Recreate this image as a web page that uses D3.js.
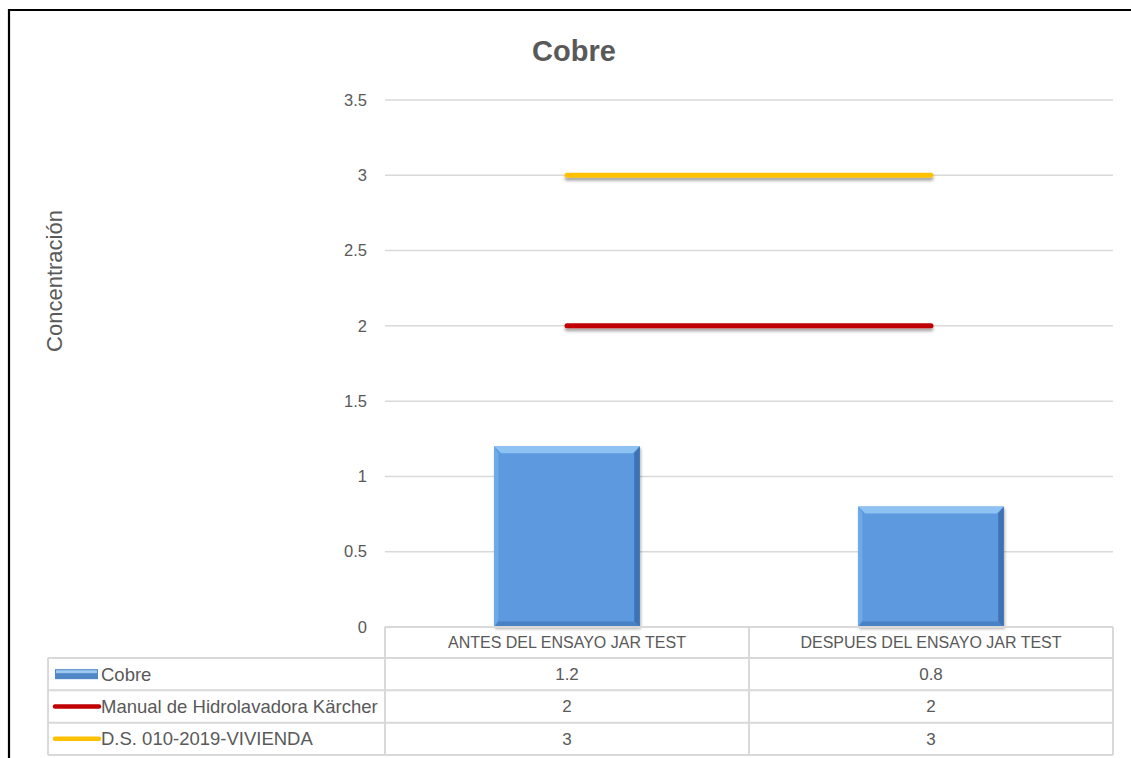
<!DOCTYPE html>
<html>
<head>
<meta charset="utf-8">
<script src="https://cdn.jsdelivr.net/npm/d3@7"></script>
<style>
  html, body { margin: 0; padding: 0; background: #fff; }
  svg { display: block; }
</style>
</head>
<body>
<svg id="chart" width="1131" height="758"></svg>
<script>
// Chart data
const categories = ["ANTES DEL ENSAYO JAR TEST", "DESPUES DEL ENSAYO JAR TEST"];
const cobreValues = [1.2, 0.8];
const manualValues = [2, 2];
const dsValues = [3, 3];
const yTicks = [0, 0.5, 1, 1.5, 2, 2.5, 3, 3.5];
const seriesNames = ["Cobre", "Manual de Hidrolavadora Kärcher", "D.S. 010-2019-VIVIENDA"];
const seriesValues = [cobreValues, manualValues, dsValues];

const svg = d3.select("#chart");
const W = 1131, H = 758;
const plot = { left: 385, right: 1113, top: 100, bottom: 627 };
const tableLeft = 48, tableBottom = 755;
const gridColor = "#d9d9d9";
const textColor = "#595959";
const baseFont = "Liberation Sans, Arial, sans-serif";

const x = d3.scaleBand().domain(categories).range([plot.left, plot.right]).padding(0);
const y = d3.scaleLinear().domain([0, 3.5]).range([plot.bottom, plot.top]);
const rowScale = d3.scaleBand().domain(seriesNames).range([658, tableBottom]);

const defs = svg.append("defs");
const shadow = defs.append("filter").attr("id", "lineShadow")
  .attr("filterUnits", "userSpaceOnUse")
  .attr("x", 0).attr("y", 0).attr("width", W).attr("height", H);
shadow.append("feDropShadow").attr("dx", 0).attr("dy", 3).attr("stdDeviation", 1.8)
  .attr("flood-color", "#000").attr("flood-opacity", 0.35);
const barShadow = defs.append("filter").attr("id", "barShadow")
  .attr("filterUnits", "userSpaceOnUse")
  .attr("x", 0).attr("y", 0).attr("width", W).attr("height", H);
barShadow.append("feDropShadow").attr("dx", 1).attr("dy", 2).attr("stdDeviation", 1.5)
  .attr("flood-color", "#000").attr("flood-opacity", 0.3);

// Outer frame (left and top edges)
svg.append("path")
  .attr("d", `M9,${H} L9,10 L${W},10`)
  .attr("fill", "none").attr("stroke", "#000").attr("stroke-width", 2.2);

// Title
svg.append("text")
  .attr("x", 574).attr("y", 61)
  .attr("text-anchor", "middle")
  .attr("font-family", baseFont)
  .attr("font-weight", "bold").attr("font-size", 29)
  .attr("fill", textColor)
  .text("Cobre");

// Horizontal gridlines
svg.append("g").selectAll("line").data(yTicks.filter(t => t > 0)).join("line")
  .attr("x1", plot.left).attr("x2", plot.right)
  .attr("y1", d => y(d)).attr("y2", d => y(d))
  .attr("stroke", gridColor).attr("stroke-width", 1.5);

// Y axis tick labels
const yAxis = d3.axisLeft(y).tickValues(yTicks).tickSize(0).tickPadding(0)
  .tickFormat(d => d3.format("")(d));
const yg = svg.append("g").attr("transform", `translate(367,0)`).call(yAxis);
yg.select(".domain").remove();
yg.selectAll("text")
  .attr("font-family", baseFont)
  .attr("font-size", 16.5).attr("fill", textColor);

// Y axis title
svg.append("text")
  .attr("transform", "translate(62,281) rotate(-90)")
  .attr("text-anchor", "middle")
  .attr("font-family", baseFont)
  .attr("font-size", 22).attr("fill", textColor)
  .text("Concentración");

// Bars with a bevelled edge
const barW = x.bandwidth() * 0.4;
const bev = 7;
const bars = svg.append("g").selectAll("g").data(categories.map((c, i) => ({ c, v: cobreValues[i] }))).join("g")
  .attr("filter", "url(#barShadow)");
bars.each(function(d) {
  const g = d3.select(this);
  const x0 = x(d.c) + (x.bandwidth() - barW) / 2, x1 = x0 + barW;
  const y0 = y(d.v), y1 = y(0);
  g.append("rect").attr("x", x0).attr("y", y0).attr("width", barW).attr("height", y1 - y0).attr("fill", "#5b99de");
  const poly = (pts, fill) => g.append("polygon").attr("points", pts.map(p => p.join(",")).join(" ")).attr("fill", fill);
  poly([[x0, y0], [x1, y0], [x1 - bev, y0 + bev], [x0 + bev, y0 + bev]], "#8ec2f3");
  poly([[x0, y0], [x0 + bev * 0.6, y0 + bev], [x0 + bev * 0.6, y1 - bev], [x0, y1]], "#6eaae8");
  poly([[x1, y0], [x1, y1], [x1 - bev * 0.8, y1 - bev * 0.8], [x1 - bev * 0.8, y0 + bev]], "#3e73b3");
  poly([[x0, y1], [x1, y1], [x1 - bev * 0.8, y1 - bev * 0.8], [x0 + bev * 0.6, y1 - bev * 0.8]], "#4a82c4");
});

// Reference lines between category centres
const lineGen = d3.line().x(d => d[0]).y(d => d[1]);
[[manualValues, "#c00000"], [dsValues, "#ffc000"]].forEach(([vals, color]) => {
  svg.append("path")
    .attr("d", lineGen(categories.map((c, i) => [x(c) + x.bandwidth() / 2, y(vals[i])])))
    .attr("fill", "none").attr("stroke", color).attr("stroke-width", 5)
    .attr("stroke-linecap", "round").attr("filter", "url(#lineShadow)");
});

// Data table
const table = svg.append("g");
// horizontal lines
table.append("line").attr("x1", plot.left).attr("x2", plot.right)
  .attr("y1", y(0)).attr("y2", y(0)).attr("stroke", gridColor).attr("stroke-width", 2);
table.selectAll("line.row").data(seriesNames).join("line").attr("class", "row")
  .attr("x1", tableLeft).attr("x2", plot.right)
  .attr("y1", d => rowScale(d)).attr("y2", d => rowScale(d))
  .attr("stroke", gridColor).attr("stroke-width", 2);
table.append("line").attr("x1", tableLeft).attr("x2", plot.right)
  .attr("y1", tableBottom).attr("y2", tableBottom).attr("stroke", gridColor).attr("stroke-width", 2);
// vertical lines
table.append("line").attr("x1", tableLeft).attr("x2", tableLeft)
  .attr("y1", rowScale.range()[0]).attr("y2", tableBottom).attr("stroke", gridColor).attr("stroke-width", 2);
table.selectAll("line.col").data(categories.concat(["end"])).join("line").attr("class", "col")
  .attr("x1", d => d === "end" ? plot.right : x(d)).attr("x2", d => d === "end" ? plot.right : x(d))
  .attr("y1", y(0)).attr("y2", tableBottom).attr("stroke", gridColor).attr("stroke-width", 2);

// header labels
table.selectAll("text.cat").data(categories).join("text").attr("class", "cat")
  .attr("x", d => x(d) + x.bandwidth() / 2).attr("y", (y(0) + rowScale.range()[0]) / 2)
  .attr("dy", "0.35em").attr("text-anchor", "middle")
  .attr("font-family", baseFont).attr("font-size", 16).attr("fill", textColor)
  .text(d => d);

// values and legend keys
seriesNames.forEach((name, si) => {
  const cy = rowScale(name) + rowScale.bandwidth() / 2;
  table.selectAll(null).data(categories).join("text")
    .attr("x", d => x(d) + x.bandwidth() / 2).attr("y", cy)
    .attr("dy", "0.35em").attr("text-anchor", "middle")
    .attr("font-family", baseFont).attr("font-size", 17).attr("fill", textColor)
    .text((d, i) => seriesValues[si][i]);
  if (si === 0) {
    const g = table.append("g");
    g.append("rect").attr("x", 55).attr("y", cy - 5).attr("width", 43).attr("height", 10).attr("fill", "#4f86c6");
    g.append("rect").attr("x", 56).attr("y", cy - 4).attr("width", 41).attr("height", 3).attr("fill", "#9cc8f2");
  } else {
    table.append("line").attr("x1", 55).attr("x2", 99).attr("y1", cy).attr("y2", cy)
      .attr("stroke", si === 1 ? "#c00000" : "#ffc000").attr("stroke-width", 4.5).attr("stroke-linecap", "round");
  }
  table.append("text").attr("x", 101).attr("y", cy).attr("dy", "0.35em")
    .attr("font-family", baseFont).attr("font-size", 18.5).attr("fill", textColor)
    .text(name);
});
</script>
</body>
</html>
